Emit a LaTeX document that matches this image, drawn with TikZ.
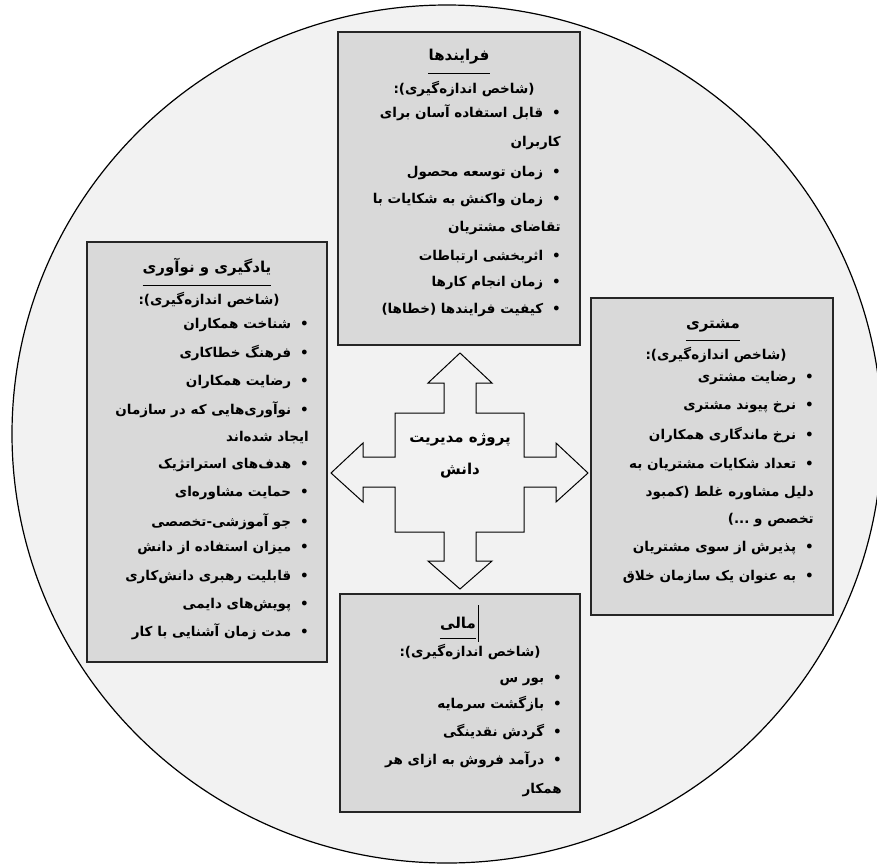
\documentclass[tikz,border=0pt]{standalone}
\usepackage{fontspec}
\TeXXeTstate=1
\newfontfamily\arabicfont[Script=Arabic]{DejaVu Sans}
\definecolor{circfill}{HTML}{F2F2F2}
\definecolor{boxfill}{HTML}{D9D9D9}
\newcommand{\rtl}[1]{\beginR #1\endR}
\newcommand{\bitem}[1]{\beginR •\hspace{9pt}#1\endR}
\tikzset{
  boxst/.style={draw=black!85, line width=1.3pt, fill=boxfill, inner sep=0pt, rectangle},
  txt/.style={inner sep=0pt, font=\arabicfont\bfseries\fontsize{13.5}{15}\selectfont},
  ln/.style={txt, anchor=east},
  ttl/.style={txt, anchor=center},
  head/.style={inner sep=0pt, anchor=center, font=\arabicfont\bfseries\fontsize{15}{17}\selectfont},
  uline/.style={line width=0.9pt},
}
\begin{document}
\begin{tikzpicture}[x=1pt,y=-1pt]
\useasboundingbox (0,0) rectangle (877,865);
\fill[white] (0,0) rectangle (877,865);
\draw[fill=circfill, line width=1.2pt] (447,434) ellipse [x radius=435pt, y radius=429pt];

% central four-way arrow
\draw[fill=circfill, line width=1pt, line join=miter]
  (460,353) -- (492,383) -- (476,383) -- (476,413) -- (524,413) -- (524,457) -- (556,457)
  -- (556,443) -- (588,473) -- (556,502) -- (556,487) -- (524,487) -- (524,532) -- (476,532)
  -- (476,561) -- (492,561) -- (460,589) -- (428,561) -- (444,561) -- (444,532) -- (395,532)
  -- (395,487) -- (363,487) -- (363,502) -- (331,473) -- (363,443) -- (363,457) -- (395,457)
  -- (395,413) -- (444,413) -- (444,383) -- (428,383) -- cycle;
\node[head] (c1) at (460,440) {\rtl{پروژه مدیریت}};
\node[head] (c2) at (460,471) {\rtl{دانش}};

% boxes
\node[boxst, minimum width=242pt, minimum height=313pt] (bt) at (459,188.5) {};
\node[boxst, minimum width=240pt, minimum height=420pt] (bl) at (207,452) {};
\node[boxst, minimum width=242pt, minimum height=317pt] (br) at (712,456.5) {};
\node[boxst, minimum width=240pt, minimum height=218pt] (bb) at (460,703) {};

% top box
\node[head] (t0) at (459,57) {\rtl{فرایندها}};
\draw[uline] (t0.west |- 0,73) -- (t0.east |- 0,73);
\node[ttl] (t1) at (464,89) {\rtl{(شاخص اندازه‌گیری):}};
\node[ln] (t2) at (561,113) {\bitem{قابل استفاده آسان برای}};
\node[ln] (t3) at (561,143) {\rtl{کاربران}};
\node[ln] (t4) at (561,173) {\bitem{زمان توسعه محصول}};
\node[ln] (t5) at (561,200) {\bitem{زمان واکنش به شکایات با}};
\node[ln] (t6) at (561,228) {\rtl{تقاضای مشتریان}};
\node[ln] (t7) at (561,257) {\bitem{اثربخشی ارتباطات}};
\node[ln] (t8) at (561,283) {\bitem{زمان انجام کارها}};
\node[ln] (t9) at (561,310) {\bitem{کیفیت فرایندها (خطاها)}};

% left box
\node[head] (l0) at (207,267) {\rtl{یادگیری و نوآوری}};
\draw[uline] (l0.west |- 0,285) -- (l0.east |- 0,285);
\node[ttl] (l1) at (209,300) {\rtl{(شاخص اندازه‌گیری):}};
\node[ln] (l2) at (309,325) {\bitem{شناخت همکاران}};
\node[ln] (l3) at (309,353) {\bitem{فرهنگ خطاکاری}};
\node[ln] (l4) at (309,382) {\bitem{رضایت همکاران}};
\node[ln] (l5) at (309,410) {\bitem{نوآوری‌هایی که در سازمان}};
\node[ln] (l6) at (309,438) {\rtl{ایجاد شده‌اند}};
\node[ln] (l7) at (309,465) {\bitem{هدف‌های استراتژیک}};
\node[ln] (l8) at (309,493) {\bitem{حمایت مشاوره‌ای}};
\node[ln] (l9) at (309,522) {\bitem{جو آموزشی-تخصصی}};
\node[ln] (l10) at (309,548) {\bitem{میزان استفاده از دانش}};
\node[ln] (l11) at (309,577) {\bitem{قابلیت رهبری دانش‌کاری}};
\node[ln] (l12) at (309,605) {\bitem{پویش‌های دایمی}};
\node[ln] (l13) at (309,632) {\bitem{مدت زمان آشنایی با کار}};

% right box
\node[head] (r0) at (713,326) {\rtl{مشتری}};
\draw[uline] (r0.west |- 0,340) -- (r0.east |- 0,340);
\node[ttl] (r1) at (716,355) {\rtl{(شاخص اندازه‌گیری):}};
\node[ln] (r2) at (814,378) {\bitem{رضایت مشتری}};
\node[ln] (r3) at (814,407) {\bitem{نرخ پیوند مشتری}};
\node[ln] (r4) at (814,435) {\bitem{نرخ ماندگاری همکاران}};
\node[ln] (r5) at (814,465) {\bitem{تعداد شکایات مشتریان به}};
\node[ln] (r6) at (814,493) {\rtl{دلیل مشاوره‌ غلط (کمبود}};
\node[ln] (r7) at (814,520) {\rtl{تخصص و ...)}};
\node[ln] (r8) at (814,548) {\bitem{پذیرش از سوی مشتریان}};
\node[ln] (r9) at (814,577) {\bitem{به عنوان یک سازمان خلاق}};

% bottom box
\node[head] (m0) at (458,624) {\rtl{مالی}};
\draw[uline] (m0.west |- 0,638) -- (m0.east |- 0,638);
\draw[line width=0.8pt] ([xshift=2pt]m0.east |- 0,605) -- ([xshift=2pt]m0.east |- 0,642);
\node[ttl] (m1) at (470,652) {\rtl{(شاخص اندازه‌گیری):}};
\node[ln] (m2) at (562,680) {\bitem{بور س}};
\node[ln] (m3) at (562,704) {\bitem{بازگشت سرمایه}};
\node[ln] (m4) at (562,732) {\bitem{گردش نقدینگی}};
\node[ln] (m5) at (562,760) {\bitem{درآمد فروش به ازای هر}};
\node[ln] (m6) at (562,790) {\rtl{همکار}};
\end{tikzpicture}
\end{document}
